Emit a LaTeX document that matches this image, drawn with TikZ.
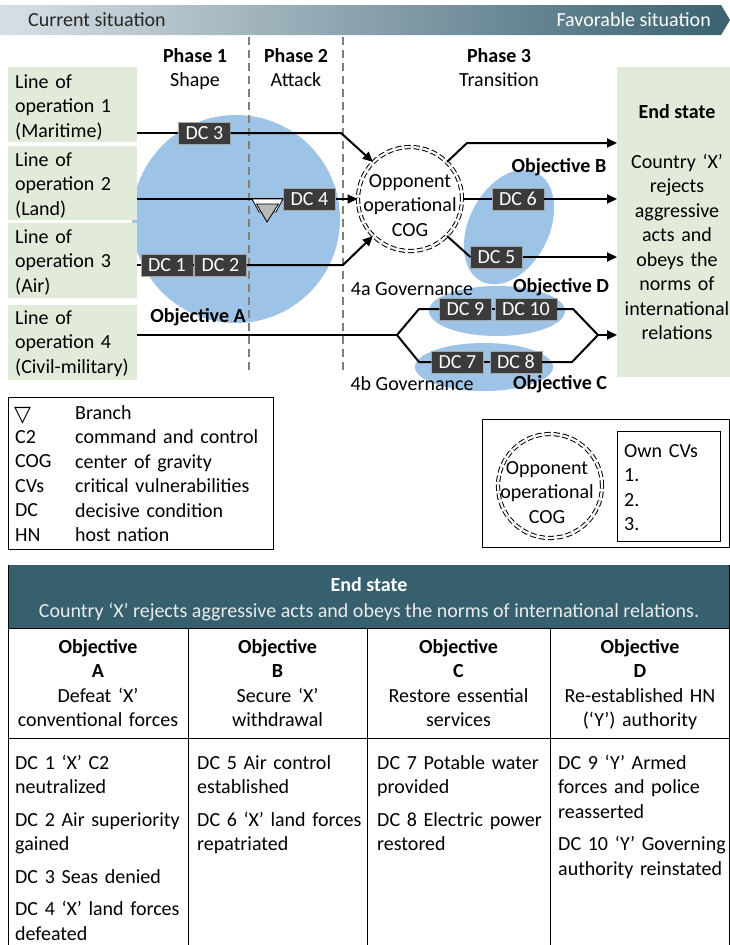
\documentclass[tikz,border=0pt]{standalone}
\usepackage{fontspec}
\setmainfont{Carlito}
\newfontfamily\dejavusym{DejaVu Sans}
\usetikzlibrary{arrows.meta,calc}
\definecolor{loogreen}{HTML}{E2EBD9}
\definecolor{objblue}{HTML}{9DC3E6}
\definecolor{dcgray}{HTML}{3B3B3B}
\definecolor{hdrteal}{HTML}{36606E}
\definecolor{bannerL}{HTML}{D8E0E6}
\definecolor{bannerR}{HTML}{3A6271}
\definecolor{phasegray}{HTML}{7F7F7F}
\tikzset{
  txt/.style={inner sep=0pt, anchor=base west},
  ctxt/.style={inner sep=0pt, anchor=base},
  mtxt/.style={inner sep=0pt, anchor=base west, text width=#1, align=left},
  ctrtxt/.style={inner sep=0pt, anchor=base, text width=#1, align=center},
  greenbox/.style={fill=loogreen, inner sep=0pt, anchor=north west},
  dcbox/.style={fill=dcgray, draw=gray!70, line width=0.6pt, text=white, inner xsep=7pt, inner ysep=0pt, minimum height=22pt},
  conn/.style={line width=2pt, black},
  arr/.style={conn, -{Triangle[length=10pt,width=9pt]}},
  phaseline/.style={phasegray, line width=2pt, dash pattern=on 8pt off 5pt},
  cogcircle/.style={circle, draw=black, fill=white, line width=1pt, double=white, double distance=2.2pt, dash pattern=on 6pt off 3pt, minimum size=104pt, inner sep=0pt},
  boxframe/.style={draw=black, line width=1pt, inner sep=0pt, anchor=north west},
  tabline/.style={line width=1pt, black},
}
\begin{document}
\begin{tikzpicture}[x=1pt,y=-1pt,font=\fontsize{20}{24.5}\selectfont]
\useasboundingbox (0,0) rectangle (730,945);
% banner
\shade[left color=bannerL, right color=bannerR] (0,5) -- (721,5) -- (730,20) -- (721,35) -- (0,35) -- cycle;
\node[txt, text=black!85] (cur) at (28,26) {Current situation};
\node[inner sep=0pt, anchor=base east, text=white] (fav) at (711,26) {Favorable situation};
% objective areas
\fill[objblue] (236,219) circle[radius=104];
\fill[objblue, rotate around={63:(509,227)}] (509,227) ellipse[x radius=61, y radius=40];
\fill[objblue] (497,311) ellipse[x radius=68, y radius=25];
\fill[objblue] (484,367) ellipse[x radius=69, y radius=24];
% green boxes
\node[greenbox, minimum width=129pt, minimum height=75pt] (loo1) at (8,67) {};
\node[greenbox, minimum width=129pt, minimum height=74pt] (loo2) at (8,146) {};
\node[greenbox, minimum width=129pt, minimum height=75pt] (loo3) at (8,223) {};
\node[greenbox, minimum width=129pt, minimum height=75pt] (loo4) at (8,305) {};
\node[greenbox, minimum width=113pt, minimum height=310pt] (endbox) at (617,67) {};
\node[mtxt=125pt] (loo1t) at (15,88) {Line of\\operation 1\\(Maritime)};
\node[mtxt=125pt] (loo2t) at (15,166) {Line of\\operation 2\\(Land)};
\node[mtxt=125pt] (loo3t) at (15,243) {Line of\\operation 3\\(Air)};
\node[mtxt=125pt] (loo4t) at (15,324) {Line of\\operation 4\\(Civil-military)};
% phases
\node[ctxt] (ph1) at (195,62) {\textbf{Phase 1}};
\node[ctxt] (ph1s) at (195,86) {Shape};
\node[ctxt] (ph2) at (296,62) {\textbf{Phase 2}};
\node[ctxt] (ph2s) at (296,86) {Attack};
\node[ctxt] (ph3) at (499,62) {\textbf{Phase 3}};
\node[ctxt] (ph3s) at (499,86) {Transition};
\draw[phaseline] (249,37) -- (249,373);
\draw[phaseline] (343,37) -- (343,373);
% decisive conditions
\node[dcbox] (dc3) at (204.5,133) {DC 3};
\node[dcbox] (dc4) at (309.5,199) {DC 4};
\node[dcbox] (dc1) at (167,265) {DC 1};
\node[dcbox] (dc2) at (220.5,265) {DC 2};
\node[dcbox] (dc6) at (518,199) {DC 6};
\node[dcbox] (dc5) at (496.5,257) {DC 5};
\node[dcbox] (dc9) at (465.5,309) {DC 9};
\node[dcbox] (dc10) at (526,309) {DC 10};
\node[dcbox] (dc7) at (457.5,362) {DC 7};
\node[dcbox] (dc8) at (516,362) {DC 8};
% COG
\node[cogcircle] (cog) at (410,199) {};
\node[ctrtxt=100pt] (cogt) at (410,187) {Opponent\\operational\\COG};
% connectors
\coordinate (b1) at (341,133);
\coordinate (b3) at (343,265);
\draw[conn] (loo1.east |- dc3.west) -- (dc3.west);
\draw[arr] (dc3.east) -- (b1) -- (cog.135);
\draw[conn] (loo2.east |- dc4.west) -- (dc4.west);
\draw[arr] (dc4.east) -- (cog.west);
\draw[conn] (loo3.east |- dc1.west) -- (dc1.west);
\draw[conn] (dc1.east) -- (dc2.west);
\draw[arr] (dc2.east) -- (b3) -- (cog.225);
% branch symbol
\filldraw[fill=white, draw=black, line width=0.8pt] (252,199) -- (283,199) -- (276,212) -- (259,212) -- cycle;
\filldraw[fill=gray!55, draw=black, line width=0.8pt] (256.5,204) -- (278.5,204) -- (267,222) -- cycle;
% line of operation 4
\coordinate (split) at (397,335);
\coordinate (up1) at (419,309);
\coordinate (lo1) at (419,362);
\coordinate (up2) at (573,309);
\coordinate (lo2) at (572,362);
\coordinate (join) at (598,335);
\draw[conn] (loo4.east |- split) -- (split);
\draw[conn] (split) -- (up1) -- (dc9.west);
\draw[conn] (dc9.east) -- (dc10.west);
\draw[conn] (dc10.east) -- (up2) -- (join);
\draw[conn] (split) -- (lo1) -- (dc7.west);
\draw[conn] (dc7.east) -- (dc8.west);
\draw[conn] (dc8.east) -- (lo2) -- (join);
\draw[arr] (join) -- (endbox.west |- join);
% COG outputs
\coordinate (c1) at (467,143);
\draw[arr] (cog.45) -- (c1) -- (endbox.west |- c1);
\draw[conn] (cog.east) -- (dc6.west);
\draw[arr] (dc6.east) -- (endbox.west |- dc6.east);
\draw[conn] (cog.-45) -- (dc5.west);
\draw[arr] (dc5.east) -- (endbox.west |- dc5.east);
% labels
\node[ctxt] (objA) at (198,322) {\textbf{Objective A}};
\node[ctxt] (objB) at (559,172) {\textbf{Objective B}};
\node[ctxt] (objD) at (561,292) {\textbf{Objective D}};
\node[ctxt] (objC) at (560,389) {\textbf{Objective C}};
\node[ctxt] (gov4a) at (412,295) {4a Governance};
\node[ctxt] (gov4b) at (412,390) {4b Governance};
\node[ctxt] (est) at (677,118) {\textbf{End state}};
\node[ctrtxt=113pt] (esd) at (677,168) {Country ‘X’\\rejects\\aggressive\\acts and\\obeys the\\norms of\\international\\relations};
% legend
\node[boxframe, minimum width=265pt, minimum height=152pt] (legend) at (8,397) {};
\node[txt] (brsym) at (14,421) {\dejavusym\fontsize{22}{24}\selectfont ▽};
\node[mtxt=55pt] (abbr) at (15,443.4) {C2\\COG\\CVs\\DC\\HN};
\node[mtxt=190pt] (desc) at (75,419) {Branch\\command and control\\center of gravity\\critical vulnerabilities\\decisive condition\\host nation};
% COG legend
\node[boxframe, minimum width=247pt, minimum height=128pt] (coglegend) at (482,419) {};
\node[cogcircle] (cogl) at (550,486) {};
\node[ctrtxt=100pt] (coglt) at (547,474) {Opponent\\operational\\COG};
\node[boxframe, minimum width=103pt, minimum height=110pt] (cvbox) at (617,431) {};
\node[mtxt=95pt] (cvt) at (624,457) {Own CVs\\1.\\2.\\3.};
% table
\fill[hdrteal] (8,565) rectangle (730,628);
\node[ctxt, text=white] (tes) at (369,591) {\textbf{End state}};
\node[ctxt, text=white!92!black] (tesd) at (369,617) {Country ‘X’ rejects aggressive acts and obeys the norms of international relations.};
\draw[tabline] (8,565) -- (8,945);
\draw[tabline] (729.5,565) -- (729.5,945);
\draw[tabline] (8,628) -- (730,628);
\draw[tabline] (8,738) -- (730,738);
\draw[tabline] (188,628) -- (188,945);
\draw[tabline] (367,628) -- (367,945);
\draw[tabline] (550,628) -- (550,945);
\node[ctrtxt=175pt] (oa) at (98,653) {\textbf{Objective}\\\textbf{A}\\Defeat ‘X’\\conventional forces};
\node[ctrtxt=175pt] (ob) at (277.5,653) {\textbf{Objective}\\\textbf{B}\\Secure ‘X’\\withdrawal};
\node[ctrtxt=178pt] (oc) at (458.5,653) {\textbf{Objective}\\\textbf{C}\\Restore essential\\services};
\node[ctrtxt=178pt] (od) at (640,653) {\textbf{Objective}\\\textbf{D}\\Re-established HN\\(‘Y’) authority};
\node[mtxt=170pt] (ba) at (15,769) {DC 1 ‘X’ C2\\neutralized\\[8pt]DC 2 Air superiority\\gained\\[8pt]DC 3 Seas denied\\[8pt]DC 4 ‘X’ land forces\\defeated};
\node[mtxt=170pt] (bb) at (197,769) {DC 5 Air control\\established\\[8pt]DC 6 ‘X’ land forces\\repatriated};
\node[mtxt=170pt] (bc) at (377,769) {DC 7 Potable water\\provided\\[8pt]DC 8 Electric power\\restored};
\node[mtxt=168pt] (bd) at (558,769) {DC 9 ‘Y’ Armed\\forces and police\\reasserted\\[8pt]DC 10 ‘Y’ Governing\\authority reinstated};
\end{tikzpicture}
\end{document}
